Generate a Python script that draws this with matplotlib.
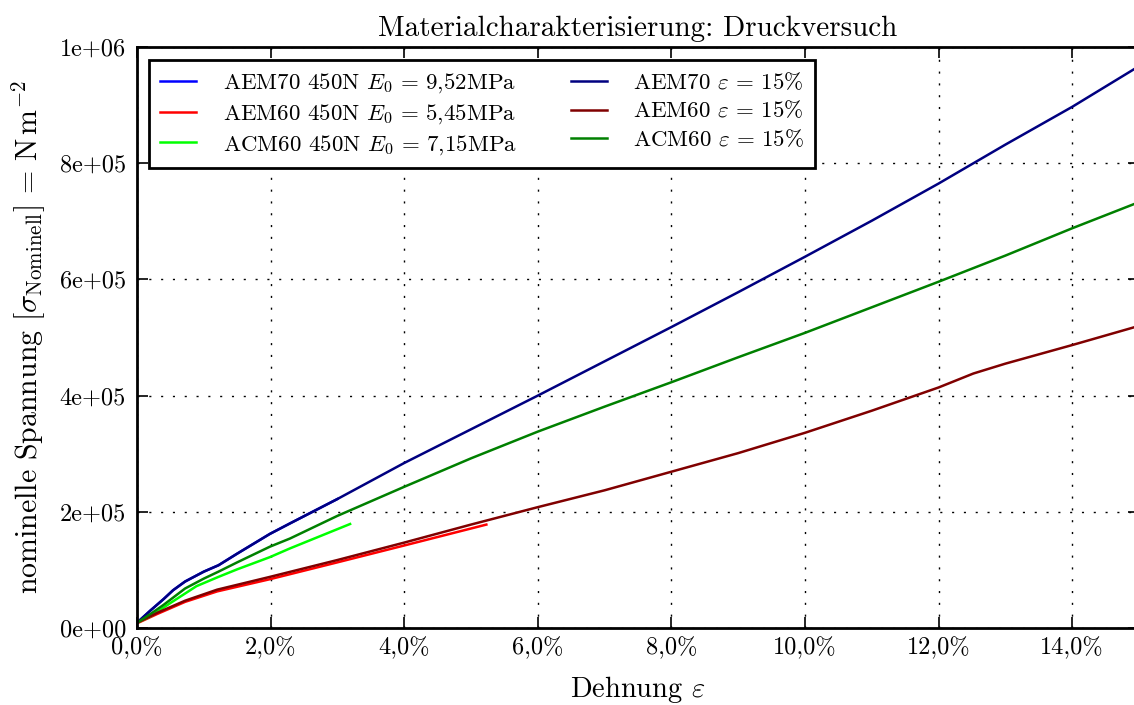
import matplotlib
matplotlib.use("Agg")
import matplotlib.pyplot as plt
from matplotlib.ticker import FuncFormatter, MultipleLocator

plt.rcParams["font.family"] = "serif"
plt.rcParams["font.serif"] = ["cmr10"]
plt.rcParams["mathtext.fontset"] = "cm"
plt.rcParams["axes.unicode_minus"] = False
plt.rcParams["axes.formatter.use_mathtext"] = True

# Compression test data: strain (fraction) and nominal stress (N/m^2)
strain_aem70_450 = [0.0, 0.002, 0.004, 0.0054, 0.0072, 0.01, 0.0122, 0.015, 0.0199, 0.0229, 0.03]
stress_aem70_450 = [9e3, 30e3, 50e3, 65e3, 80e3, 97e3, 108e3, 128e3, 162e3, 180e3, 222e3]

strain_aem60_450 = [0.0, 0.003, 0.0072, 0.012, 0.0199, 0.03, 0.04, 0.0523]
stress_aem60_450 = [8e3, 24e3, 45e3, 63e3, 84e3, 113e3, 142e3, 178e3]

strain_acm60_450 = [0.0, 0.002, 0.005, 0.0089, 0.0122, 0.015, 0.0199, 0.0229, 0.0319]
stress_acm60_450 = [9e3, 20e3, 43e3, 72e3, 88e3, 101e3, 122e3, 137e3, 179e3]

strain_aem70_15 = [0.0, 0.002, 0.004, 0.0054, 0.0072, 0.01, 0.0122, 0.015, 0.0199, 0.0229,
                   0.03, 0.04, 0.05, 0.06, 0.07, 0.08, 0.09, 0.1, 0.11, 0.12, 0.13, 0.14, 0.15]
stress_aem70_15 = [9e3, 30e3, 50e3, 65e3, 80e3, 97e3, 108e3, 128e3, 162e3, 180e3,
                   222e3, 284e3, 342e3, 400e3, 459e3, 518e3, 578e3, 639e3, 701e3, 765e3,
                   832e3, 897e3, 967e3]

strain_aem60_15 = [0.0, 0.003, 0.0072, 0.012, 0.0199, 0.03, 0.04, 0.05, 0.06, 0.07, 0.08,
                   0.09, 0.1, 0.11, 0.12, 0.1252, 0.13, 0.14, 0.15]
stress_aem60_15 = [9e3, 26e3, 47e3, 66e3, 88e3, 117e3, 147e3, 178e3, 208e3, 237e3, 269e3,
                   301e3, 336e3, 374e3, 414e3, 438e3, 455e3, 487e3, 520e3]

strain_acm60_15 = [0.0, 0.002, 0.004, 0.0072, 0.01, 0.0122, 0.015, 0.0199, 0.0229, 0.03,
                   0.04, 0.05, 0.06, 0.07, 0.08, 0.09, 0.1, 0.11, 0.12, 0.13, 0.14, 0.15]
stress_acm60_15 = [9e3, 24e3, 40e3, 68e3, 85e3, 97e3, 113e3, 140e3, 154e3, 193e3,
                   243e3, 292e3, 338e3, 381e3, 423e3, 466e3, 508e3, 552e3, 596e3, 641e3,
                   688e3, 733e3]

labels = [
    r"AEM70 450N $E_0\,=\,$9,52MPa",
    r"AEM60 450N $E_0\,=\,$5,45MPa",
    r"ACM60 450N $E_0\,=\,$7,15MPa",
    r"AEM70 $\varepsilon\,=\,15\%$",
    r"AEM60 $\varepsilon\,=\,15\%$",
    r"ACM60 $\varepsilon\,=\,15\%$",
]
colors = ["#0000ff", "#ff0000", "#00ff00", "#000080", "#800000", "#008000"]

fig = plt.figure(figsize=(11.34, 7.05), dpi=100)
ax = fig.add_axes([137 / 1134, 1 - 628 / 705, 1002 / 1134, 581 / 705])

series = [
    (strain_aem70_450, stress_aem70_450),
    (strain_aem60_450, stress_aem60_450),
    (strain_acm60_450, stress_acm60_450),
    (strain_aem70_15, stress_aem70_15),
    (strain_aem60_15, stress_aem60_15),
    (strain_acm60_15, stress_acm60_15),
]
for (xs, ys), lab, col in zip(series, labels, colors):
    ax.plot(xs, ys, color=col, lw=1.8, label=lab)

ax.set_xlim(0, 0.15)
ax.set_ylim(0, 1e6)
ax.xaxis.set_major_locator(MultipleLocator(0.02))
ax.yaxis.set_major_locator(MultipleLocator(2e5))
ax.xaxis.set_major_formatter(FuncFormatter(lambda v, p: ("%.1f%%" % (v * 100)).replace(".", ",")))
ax.yaxis.set_major_formatter(FuncFormatter(lambda v, p: "%.0e" % v))

ax.grid(True, color="k", lw=1, linestyle=(0, (1.5, 7)))
ax.tick_params(direction="in", length=8, width=1.2, labelsize=17.5, top=True, right=True)
ax.tick_params(axis="x", pad=6)
ax.tick_params(axis="y", pad=8)
for s in ax.spines.values():
    s.set_linewidth(2)

ax.set_title("Materialcharakterisierung: Druckversuch", fontsize=21, pad=8)
ax.set_xlabel(r"Dehnung $\varepsilon$", fontsize=20.5, labelpad=11)
ax.set_ylabel(r"nominelle Spannung $[\sigma_{\mathrm{Nominell}}]\,=\,\mathrm{N\,m^{-2}}$",
              fontsize=21.5, labelpad=8)

leg = ax.legend(ncol=2, loc="upper left", bbox_to_anchor=(0.012, 0.978), borderaxespad=0,
                fontsize=16.5, fancybox=False, framealpha=1, edgecolor="k",
                handlelength=1.57, handletextpad=1.14, columnspacing=2.36, labelspacing=0.3,
                borderpad=0.5)
leg.get_frame().set_linewidth(2)

fig.savefig("out.png", dpi=100)
